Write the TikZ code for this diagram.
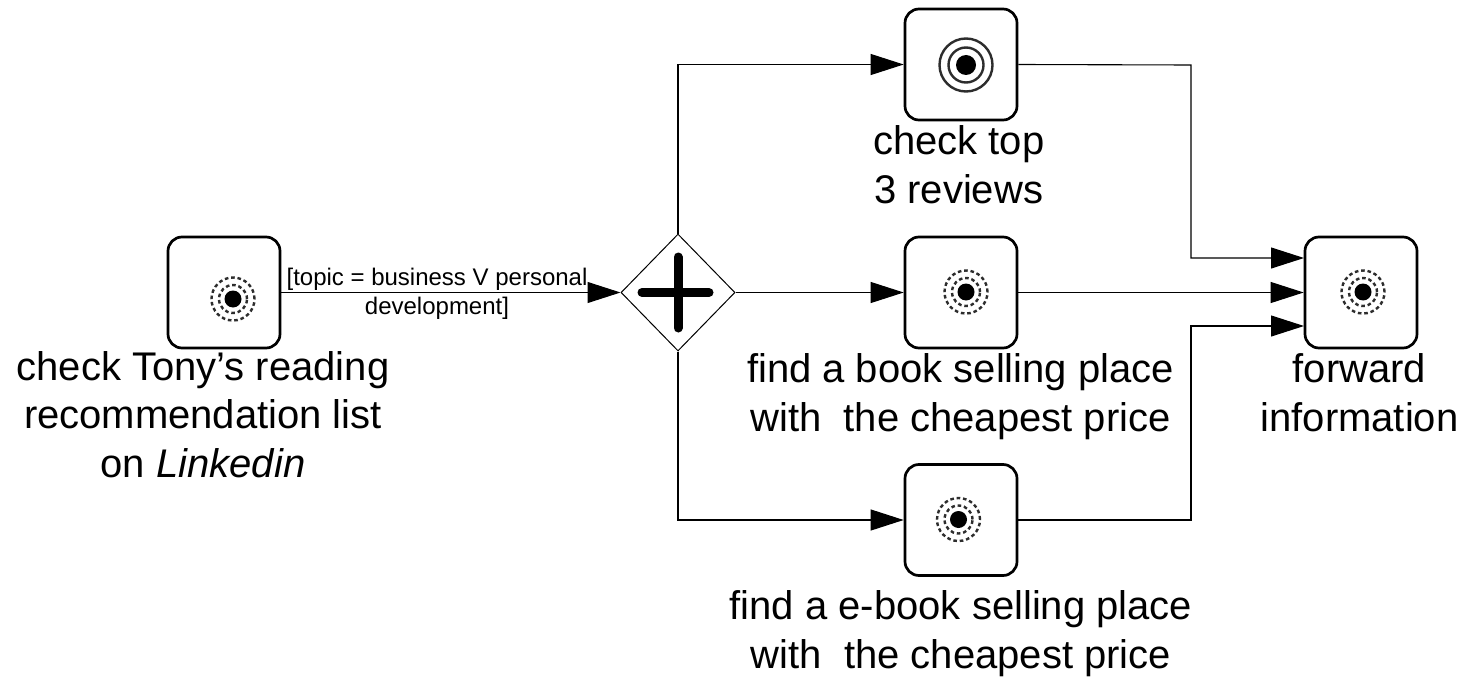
\documentclass[tikz,border=0pt]{standalone}
\usepackage{fontspec}
\setmainfont{Liberation Sans}
\usetikzlibrary{shapes.geometric,arrows.meta}
\definecolor{inkc}{RGB}{0,0,0}
\definecolor{ringc}{RGB}{45,45,45}
\tikzset{
  x=1pt,y=-1pt,
  taskbox/.style={draw=inkc,line width=2.7pt,rounded corners=14pt,minimum width=112pt,minimum height=111pt,inner sep=0pt,fill=white},
  gate/.style={draw=inkc,line width=1pt,diamond,aspect=1,minimum width=114pt,minimum height=117pt,inner sep=0pt,fill=white},
  flow/.style={draw=inkc,line width=1.1pt,-{Triangle[length=33pt,width=21pt]}},
  tasklabel/.style={align=center,font=\fontsize{40pt}{48.3pt}\selectfont,inner sep=0pt,anchor=base},
  guard/.style={align=center,font=\fontsize{24pt}{29pt}\selectfont,inner sep=0pt,anchor=base},
  plusbar/.style={line width=9pt,line cap=round,draw=black},
  dot/.style={circle,fill=black,inner sep=0pt,minimum size=#1},
  ringsolid/.style={circle,draw=ringc,line width=2.4pt,inner sep=0pt,minimum size=#1},
  ringdash/.style={circle,draw=ringc,line width=2.4pt,dash pattern=on 3.6pt off 2.8pt,inner sep=0pt,minimum size=#1},
}
\begin{document}
\begin{tikzpicture}
\useasboundingbox (0,0) rectangle (1462,677);
% tasks
\node[taskbox] (t0) at (224,292.5) {};
\node[taskbox] (t1) at (961,64.5) {};
\node[taskbox] (t2) at (961,292.5) {};
\node[taskbox] (t3) at (961,520) {};
\node[taskbox] (t4) at (1361,292.5) {};
\node[gate] (g) at (678,292.5) {};
% gateway plus
\draw[plusbar] (642,292.5) -- (709,292.5);
\draw[plusbar] (678,257) -- (678,328);
% icons
\node[ringdash=43pt] (i0a) at (233,299) {};
\node[ringdash=28pt] (i0b) at (233,299) {};
\node[dot=17pt] (i0c) at (233,299) {};
\node[ringsolid=53pt] (i1a) at (966,65) {};
\node[ringsolid=35pt] (i1b) at (966,65) {};
\node[dot=20pt] (i1c) at (966,65) {};
\node[ringdash=43pt] (i2a) at (966,292) {};
\node[ringdash=28pt] (i2b) at (966,292) {};
\node[dot=17pt] (i2c) at (966,292) {};
\node[ringdash=43pt] (i3a) at (958.5,519.5) {};
\node[ringdash=28pt] (i3b) at (958.5,519.5) {};
\node[dot=17pt] (i3c) at (958.5,519.5) {};
\node[ringdash=43pt] (i4a) at (1363,292) {};
\node[ringdash=28pt] (i4b) at (1363,292) {};
\node[dot=17pt] (i4c) at (1363,292) {};
% connectors
\coordinate (in1) at (1304,258);
\coordinate (in3) at (1304,326);
\coordinate (b1) at (1191,65);
\coordinate (b3) at (1191,520);
\draw[flow] (t0.east) -- (g.west);
\draw[flow] (g.north) |- (t1.west);
\draw[flow] (g.east) -- (t2.west);
\draw[flow] (g.south) |- (t3.west);
\draw[flow] (t1.east) -- (b1) |- (in1);
\draw[flow] (t2.east) -- (t4.west);
\draw[flow] (t3.east) -- (b3) |- (in3);
% labels
\node[guard] (lg) at (437,314) {[topic = business V personal\\development]};
\node[tasklabel] (l0) at (203,477) {check Tony’s reading\\recommendation list\\on \textit{Linkedin}};
\node[tasklabel] (l1) at (958.7,203) {check top\\3 reviews};
\node[tasklabel] (l2) at (960.5,431) {find a book selling place\\with \ the cheapest price};
\node[tasklabel] (l3) at (961,668) {find a e-book selling place\\with \ the cheapest price};
\node[tasklabel] (l4) at (1359.5,431) {forward\\information};
\end{tikzpicture}
\end{document}
